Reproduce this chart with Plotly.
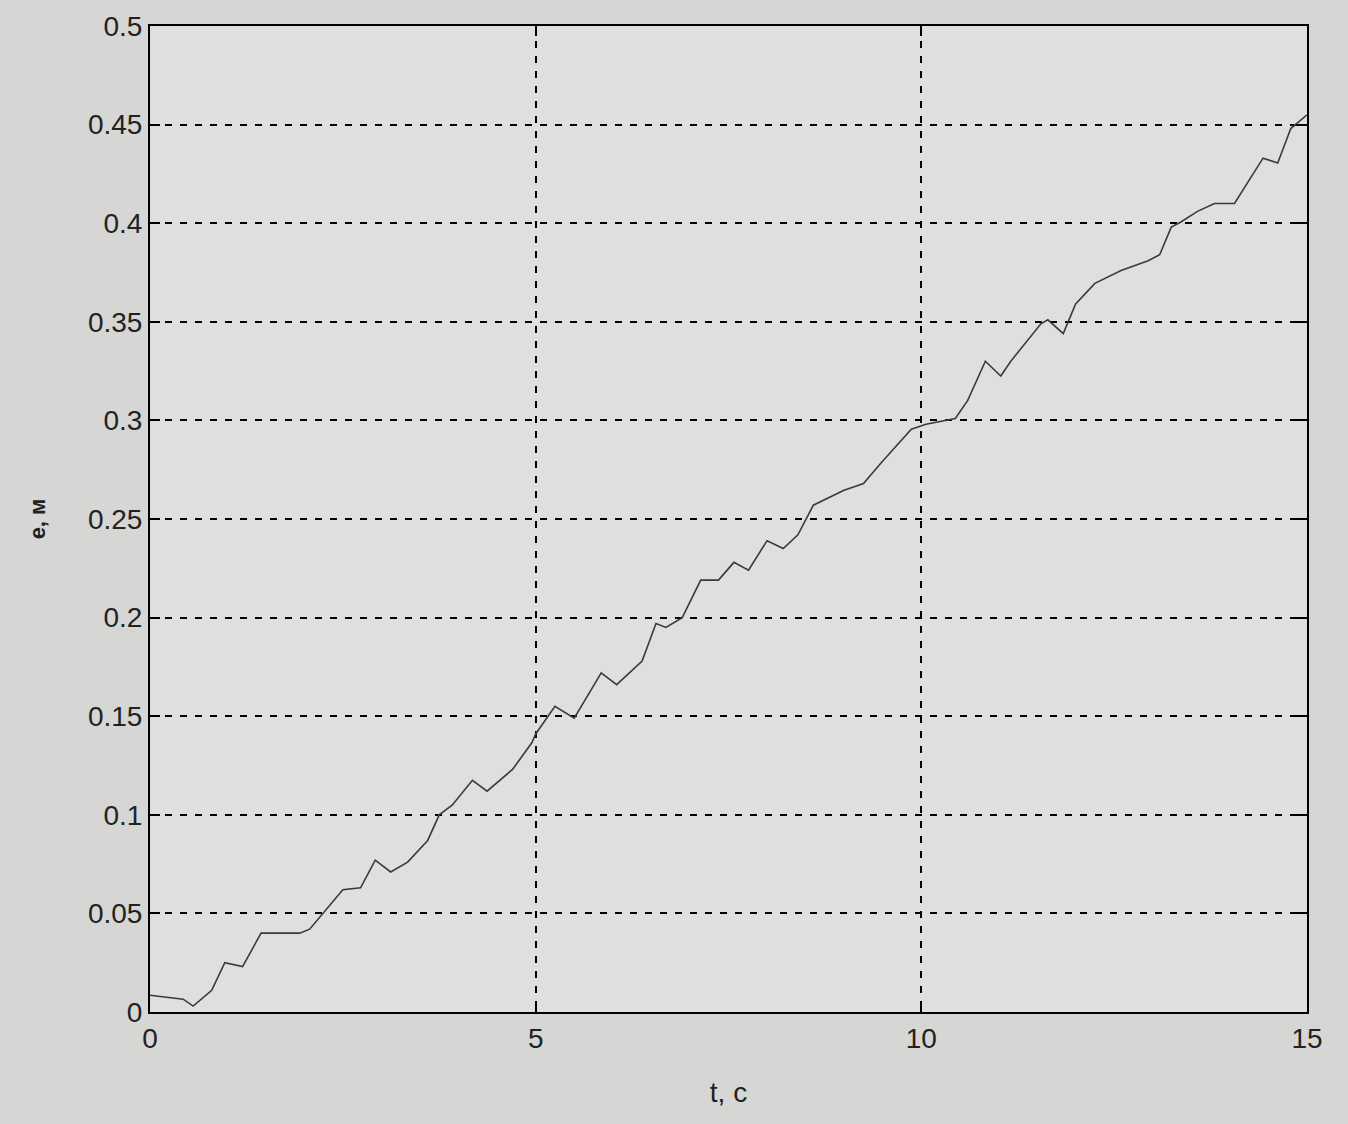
import plotly.graph_objects as go

t_vals = [0, 0.43, 0.56, 0.8, 0.97, 1.2, 1.44, 1.94, 2.07, 2.5, 2.73, 2.92, 3.12, 3.34, 3.6, 3.75,
          3.92, 4.18, 4.37, 4.7, 4.95, 5.0, 5.25, 5.5, 5.85, 6.05, 6.38, 6.56, 6.69, 6.9, 7.14,
          7.37, 7.57, 7.76, 8.0, 8.21, 8.4, 8.6, 8.99, 9.25, 9.48, 9.87, 10.06, 10.44, 10.6,
          10.83, 11.03, 11.16, 11.55, 11.64, 11.84, 12.0, 12.25, 12.59, 12.94, 13.09, 13.24,
          13.36, 13.58, 13.8, 14.06, 14.43, 14.62, 14.79, 15.0]
e_vals = [0.0085, 0.0065, 0.003, 0.011, 0.025, 0.023, 0.04, 0.04, 0.042, 0.062, 0.063, 0.077,
          0.071, 0.076, 0.087, 0.1, 0.105, 0.1175, 0.112, 0.123, 0.1365, 0.141, 0.155, 0.149,
          0.172, 0.166, 0.178, 0.197, 0.195, 0.2, 0.219, 0.219, 0.228, 0.224, 0.239, 0.235,
          0.242, 0.257, 0.2645, 0.268, 0.2785, 0.2955, 0.298, 0.301, 0.31, 0.33, 0.3225, 0.33,
          0.349, 0.351, 0.344, 0.359, 0.3695, 0.376, 0.381, 0.384, 0.398, 0.4005, 0.406, 0.41,
          0.41, 0.433, 0.4305, 0.448, 0.455]

x_ticks = [0, 5, 10, 15]
x_tick_text = ["0", "5", "10", "15"]
y_ticks = [0, 0.05, 0.1, 0.15, 0.2, 0.25, 0.3, 0.35, 0.4, 0.45, 0.5]
y_tick_text = ["0", "0.05", "0.1", "0.15", "0.2", "0.25", "0.3", "0.35", "0.4", "0.45", "0.5"]

fig = go.Figure()
fig.add_trace(go.Scatter(x=t_vals, y=e_vals, mode="lines",
                         line=dict(color="#3a3a3a", width=1.6), showlegend=False))

axis_common = dict(
    showline=True, linecolor="black", linewidth=2, mirror="ticks",
    ticks="inside", ticklen=10, tickwidth=1.5, tickcolor="black",
    showgrid=True, gridcolor="black", gridwidth=1.6, griddash="7px,8px",
    zeroline=False, tickfont=dict(family="Liberation Sans, Arial", size=28, color="#222"),
)

fig.update_xaxes(range=[0, 15], tickvals=x_ticks, ticktext=x_tick_text,
                 title=dict(text="t, с", font=dict(family="Liberation Sans, Arial", size=28, color="#222"),
                            standoff=30),
                 **axis_common)
fig.update_yaxes(range=[0, 0.5], tickvals=y_ticks, ticktext=y_tick_text,
                 title=dict(text="<b>e, м</b>", font=dict(family="Liberation Sans, Arial", size=22, color="#222"),
                            standoff=36),
                 **axis_common)

fig.update_layout(
    width=1348, height=1124,
    margin=dict(l=150, r=41, t=26, b=112),
    paper_bgcolor="#d6d6d4",
    plot_bgcolor="#dfdfdd",
)

fig.write_html("out.html", config={"displayModeBar": False},
               post_script="document.body.style.margin='0';document.body.style.background='#d6d6d4';")
